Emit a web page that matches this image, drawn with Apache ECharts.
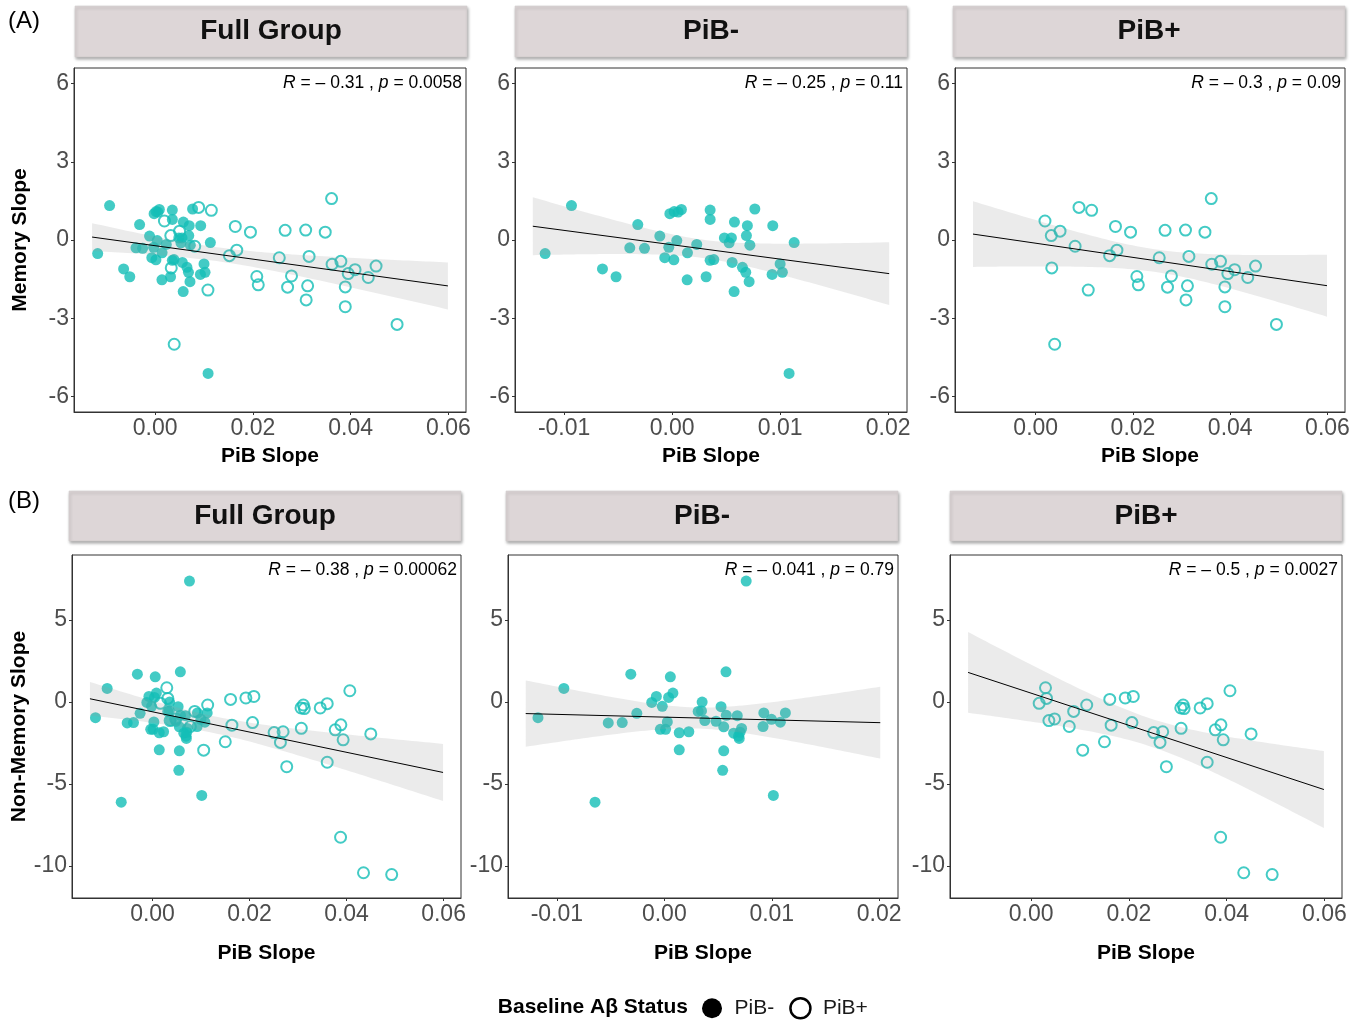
<!DOCTYPE html>
<html><head><meta charset="utf-8">
<script src="https://cdn.jsdelivr.net/npm/echarts@6/dist/echarts.min.js"></script>
<style>html,body{margin:0;padding:0;background:#fff}#c{width:1362px;height:1020px}</style>
</head><body><div id="c"></div>
<script>
// ---------- data ----------
// Memory slope vs PiB slope
const memNegX = [-0.00932,-0.01176,-0.00318,-0.00021,0.00019,0.00056,0.00086,0.00352,0.00352,0.00766,0.00577,0.00697,0.00932,0.00688,-0.00114,0.00043,0.00484,0.00549,0.00528,0.0072,0.0113,0.00228,-0.00031,-0.00392,-0.00256,0.00142,-0.00068,0.00016,0.00352,0.00386,0.00556,0.00651,0.00682,0.01,0.01021,0.00926,-0.00645,-0.00519,0.00139,0.00315,0.00713,0.00574,0.01083];
const memNegY = [1.32,-0.52,0.59,1.01,1.09,1.07,1.17,1.15,0.79,1.19,0.69,0.55,0.55,0.17,0.15,-0.02,0.08,0.08,-0.11,-0.2,-0.1,-0.17,-0.28,-0.3,-0.32,-0.49,-0.68,-0.76,-0.78,-0.75,-0.86,-1.05,-1.24,-0.92,-1.24,-1.32,-1.11,-1.41,-1.53,-1.41,-1.6,-1.98,-5.12];
const memPosX = [0.0019,0.0032,0.0050,0.0033,0.0039,0.0089,0.0115,0.0081,0.0108,0.0164,0.0195,0.0152,0.0167,0.0208,0.0211,0.0266,0.0308,0.0348,0.0361,0.0254,0.0315,0.0279,0.0271,0.0312,0.0309,0.0362,0.0380,0.0395,0.0409,0.0436,0.0452,0.0389,0.0389,0.0495];
const memPosY = [0.73,0.17,0.34,-1.07,-4.0,1.25,1.14,-0.24,-1.92,0.52,0.3,-0.6,-0.39,-1.4,-1.72,0.37,0.38,0.3,1.59,-0.68,-0.63,-1.38,-1.81,-1.76,-2.3,-0.93,-0.82,-1.29,-1.14,-1.44,-1.0,-1.8,-2.56,-3.24];
// Non-memory slope vs PiB slope
const nonNegX = [0.00762,-0.01176,-0.00935,-0.00312,0.00056,0.00574,-0.00522,-0.00392,-0.00256,-0.00117,-0.00074,-0.00019,0.0004,0.0008,0.00028,-0.00037,0.00012,0.00139,0.00228,0.00139,0.00352,0.00315,0.00346,0.00377,0.00481,0.00528,0.00553,0.00577,0.00679,0.00719,0.00645,0.00691,0.00697,0.00553,0.00543,0.00926,0.00919,0.00997,0.0108,0.01127,0.01015,-0.00645,0.00705];
const nonNegY = [7.36,-0.96,0.82,1.69,1.53,1.83,-1.28,-1.26,-0.7,-0.03,0.33,-0.27,0.27,0.54,-1.22,-1.67,-1.67,-1.88,-1.82,-2.92,-0.01,-0.58,-0.55,-1.14,-1.18,-0.29,-1.52,-0.82,-0.84,-1.62,-1.91,-2.09,-2.23,-2.98,-4.17,-0.67,-1.5,-1.06,-1.24,-0.67,-5.7,-6.11,-1.85];
const nonPosX = [0.00294,0.00315,0.00164,0.00363,0.00479,0.0078,0.0087,0.01137,0.01055,0.01609,0.01925,0.0209,0.01637,0.015,0.02062,0.02507,0.02692,0.02637,0.02767,0.03062,0.0311,0.0313,0.03458,0.03602,0.03068,0.04068,0.03883,0.03767,0.0393,0.045,0.03602,0.03877,0.0435,0.04931];
const nonPosY = [0.86,0.21,-0.09,-1.14,-1.04,-1.5,-0.58,-0.19,-2.94,0.15,0.24,0.33,-1.42,-2.43,-1.26,-1.87,-1.82,-2.47,-3.95,-0.37,-0.19,-0.41,-0.37,-0.11,-1.61,0.68,-1.4,-1.7,-2.31,-1.95,-3.68,-8.25,-10.41,-10.52];

const panelTitles = ['Full Group','PiB-','PiB+','Full Group','PiB-','PiB+'];
const statLabels = [
  ['– 0.31','0.0058'],['– 0.25','0.11'],['– 0.3','0.09'],
  ['– 0.38','0.00062'],['– 0.041','0.79'],['– 0.5','0.0027']
];
const xTicksWide = [0, 0.02, 0.04, 0.06];
const xTicksNarrow = [-0.01, 0, 0.01, 0.02];
const yTicksMem = [-6, -3, 0, 3, 6];
const yTicksNon = [-10, -5, 0, 5];
const yTitles = ['Memory Slope', 'Non-Memory Slope'];
const legendTitle = 'Baseline Aβ Status';
const groupNames = ['PiB-', 'PiB+'];

// ---------- layout / style ----------
const FONT = '"Liberation Sans", Arial, sans-serif';
const TEAL = '#14BEB7';
const grids = [
  {left:74, top:68, width:392, height:344},
  {left:515, top:68, width:392, height:344},
  {left:955, top:68, width:390, height:344},
  {left:72, top:555, width:389, height:343},
  {left:508, top:555, width:390, height:343},
  {left:950, top:555, width:392, height:343}
];
const strips = [
  [75,467,6,57],[515,907,6,57],[953,1345,6,57],
  [69,461,491,541],[506,898,491,541],[950,1342,491,541]
];
const xWide = [-0.0166, 0.0636], xNarrow = [-0.01455, 0.02175];
const lineWide = [-0.0129, 0.0599], lineNarrow = [-0.0129, 0.0201];
const yMem = [-6.6, 6.6], yNon = [-11.95, 8.95];

function zip(xs, ys){ return xs.map((x,i)=>[x, ys[i]]); }
function tq975(df){
  const z=1.959964;
  const g1=(z**3+z)/4, g2=(5*z**5+16*z**3+3*z)/96, g3=(3*z**7+19*z**5+17*z**3-15*z)/384;
  return z+g1/df+g2/df/df+g3/df/df/df;
}
function fit(pts, range){
  const n=pts.length;
  let mx=0,my=0; pts.forEach(p=>{mx+=p[0];my+=p[1];}); mx/=n; my/=n;
  let sxx=0,sxy=0; pts.forEach(p=>{sxx+=(p[0]-mx)**2; sxy+=(p[0]-mx)*(p[1]-my);});
  const b=sxy/sxx, a=my-b*mx;
  let sse=0; pts.forEach(p=>{sse+=(p[1]-a-b*p[0])**2;});
  const s=Math.sqrt(sse/(n-2)), t=tq975(n-2);
  const up=[], lo=[], K=80;
  for(let k=0;k<=K;k++){
    const x=range[0]+(range[1]-range[0])*k/K;
    const yh=a+b*x, se=s*Math.sqrt(1/n+(x-mx)**2/sxx);
    up.push([x,yh+t*se]); lo.push([x,yh-t*se]);
  }
  return {line:[[range[0],a+b*range[0]],[range[1],a+b*range[1]]], up, lo};
}

const panels = [
  {neg:zip(memNegX,memNegY), pos:zip(memPosX,memPosY), xr:xWide, lr:lineWide, yr:yMem, xt:xTicksWide, yt:yTicksMem, yname:yTitles[0], nameGapX:34},
  {neg:zip(memNegX,memNegY), pos:null, xr:xNarrow, lr:lineNarrow, yr:yMem, xt:xTicksNarrow, yt:yTicksMem, yname:'', nameGapX:34},
  {neg:null, pos:zip(memPosX,memPosY), xr:xWide, lr:lineWide, yr:yMem, xt:xTicksWide, yt:yTicksMem, yname:'', nameGapX:34},
  {neg:zip(nonNegX,nonNegY), pos:zip(nonPosX,nonPosY), xr:xWide, lr:lineWide, yr:yNon, xt:xTicksWide, yt:yTicksNon, yname:yTitles[1], nameGapX:45},
  {neg:zip(nonNegX,nonNegY), pos:null, xr:xNarrow, lr:lineNarrow, yr:yNon, xt:xTicksNarrow, yt:yTicksNon, yname:'', nameGapX:45},
  {neg:null, pos:zip(nonPosX,nonPosY), xr:xWide, lr:lineWide, yr:yNon, xt:xTicksWide, yt:yTicksNon, yname:'', nameGapX:45}
];

const xAxes=[], yAxes=[], series=[], graphics=[];
panels.forEach((p,i)=>{
  xAxes.push({
    type:'value', gridIndex:i, min:p.xr[0], max:p.xr[1],
    name:'PiB Slope', nameLocation:'middle', nameGap:p.nameGapX,
    nameTextStyle:{fontFamily:FONT, fontSize:21, fontWeight:'bold', color:'#000'},
    axisLine:{show:true, onZero:false, lineStyle:{color:'#333', width:1}},
    axisTick:{show:true, length:3, lineStyle:{color:'#333'}, customValues:p.xt},
    axisLabel:{customValues:p.xt, formatter:v=>v.toFixed(2), fontFamily:FONT, fontSize:23, color:'#4D4D4D', margin:5},
    splitLine:{show:false}
  });
  yAxes.push({
    type:'value', gridIndex:i, min:p.yr[0], max:p.yr[1],
    name:p.yname, nameLocation:'middle', nameGap:i===0?43:41, nameRotate:90,
    nameTextStyle:{fontFamily:FONT, fontSize:21, fontWeight:'bold', color:'#000'},
    axisLine:{show:true, onZero:false, lineStyle:{color:'#333', width:1}},
    axisTick:{show:true, length:3, lineStyle:{color:'#333'}, customValues:p.yt},
    axisLabel:{customValues:p.yt, formatter:v=>String(v), fontFamily:FONT, fontSize:23, color:'#4D4D4D', margin:5},
    splitLine:{show:false}
  });
  const all=[].concat(p.neg||[], p.pos||[]);
  if(p.neg) series.push({type:'scatter', name:groupNames[0], xAxisIndex:i, yAxisIndex:i, data:p.neg, symbol:'circle', symbolSize:11, itemStyle:{color:TEAL}, z:2, silent:true});
  if(p.pos) series.push({type:'scatter', name:groupNames[1], xAxisIndex:i, yAxisIndex:i, data:p.pos, symbol:'circle', symbolSize:11, itemStyle:{color:'rgba(0,0,0,0)', borderColor:TEAL, borderWidth:2}, z:2, silent:true});
  const f=fit(all, p.lr);
  const mid=f.line[0].map((v,k)=>(v+f.line[1][k])/2);
  series.push({type:'custom', xAxisIndex:i, yAxisIndex:i, data:[mid], z:3, silent:true,
    renderItem:(params, api)=>{
      const pts=f.up.map(q=>api.coord(q)).concat(f.lo.slice().reverse().map(q=>api.coord(q)));
      return {type:'polygon', shape:{points:pts}, style:{fill:'rgba(153,153,153,0.2)'}};
    }});
  series.push({type:'line', xAxisIndex:i, yAxisIndex:i, data:f.line, showSymbol:false, symbol:'none', lineStyle:{color:'#000', width:1}, z:4, silent:true});
  // strip
  const s=strips[i];
  graphics.push({type:'rect', shape:{x:s[0], y:s[2], width:s[1]-s[0], height:s[3]-s[2]},
    style:{fill:'#DDD6D7', stroke:'#CFC8C9', lineWidth:0.5, shadowBlur:3, shadowOffsetX:1, shadowOffsetY:2, shadowColor:'rgba(0,0,0,0.35)'}, z:1});
  graphics.push({type:'text', x:(s[0]+s[1])/2, y:(s[2]+s[3])/2, z:2,
    style:{text:panelTitles[i], fontFamily:FONT, fontSize:28, fontWeight:'bold', fill:'#111', align:'center', verticalAlign:'middle'}});
  // stat label
  const g=grids[i];
  graphics.push({type:'text', x:g.left+g.width-4, y:g.top+15, z:10,
    style:{text:'{i|R}{n| = '+statLabels[i][0]+' , }{i|p}{n| = '+statLabels[i][1]+'}', align:'right', verticalAlign:'middle',
      rich:{i:{fontFamily:FONT, fontSize:17.5, fontStyle:'italic', fill:'#000'}, n:{fontFamily:FONT, fontSize:17.5, fill:'#000'}}}});
});
graphics.push({type:'text', x:8, y:21, style:{text:'(A)', fontFamily:FONT, fontSize:24, fill:'#000', verticalAlign:'middle'}});
graphics.push({type:'text', x:8, y:501, style:{text:'(B)', fontFamily:FONT, fontSize:24, fill:'#000', verticalAlign:'middle'}});
graphics.push({type:'text', x:688, y:1007, style:{text:legendTitle, fontFamily:FONT, fontSize:21, fontWeight:'bold', fill:'#000', align:'right', verticalAlign:'middle'}});

const chart = echarts.init(document.getElementById('c'), null, {renderer:'canvas'});
chart.setOption({
  animation:false,
  backgroundColor:'#fff',
  grid: grids.map(g=>Object.assign({show:true, borderColor:'#333', borderWidth:1, backgroundColor:'rgba(0,0,0,0)', containLabel:false}, g)),
  xAxis:xAxes, yAxis:yAxes, series:series,
  legend:{left:697, top:992, itemWidth:35, itemHeight:20, itemGap:15, selectedMode:false,
    textStyle:{fontFamily:FONT, fontSize:21, color:'#1a1a1a'},
    data:[
      {name:groupNames[0], icon:'circle', itemStyle:{color:'#000', borderWidth:0, opacity:1}},
      {name:groupNames[1], icon:'circle', itemStyle:{color:'rgba(0,0,0,0)', borderColor:'#000', borderWidth:2.5, opacity:1}}
    ]},
  graphic:graphics
});
</script></body></html>
